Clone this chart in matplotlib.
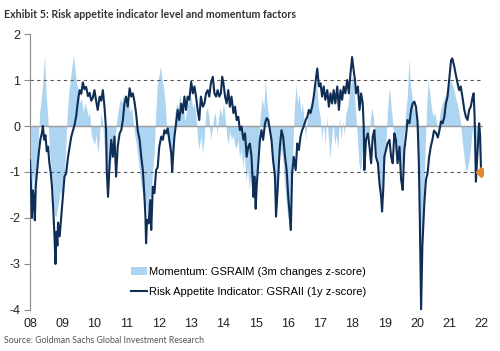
import numpy as np
import matplotlib
matplotlib.use('Agg')
import matplotlib.pyplot as plt
from matplotlib.patches import Patch
from matplotlib.lines import Line2D

plt.rcParams['font.family'] = ['Liberation Sans', 'DejaVu Sans']
plt.rcParams['axes.unicode_minus'] = False

# GSRAII (1y z-score)
gsraii_years = [
    2008.00, 2008.03, 2008.06, 2008.09, 2008.12, 2008.15, 2008.18, 2008.22, 2008.27, 2008.32,
    2008.37, 2008.40, 2008.44, 2008.48, 2008.52, 2008.56, 2008.60, 2008.64, 2008.68, 2008.72,
    2008.76, 2008.79, 2008.82, 2008.85, 2008.87, 2008.92, 2008.97, 2009.02, 2009.07, 2009.12,
    2009.18, 2009.28, 2009.38, 2009.43, 2009.49, 2009.54, 2009.59, 2009.64, 2009.69, 2009.74,
    2009.80, 2009.85, 2009.90, 2009.95, 2010.00, 2010.05, 2010.10, 2010.16, 2010.21, 2010.26,
    2010.31, 2010.36, 2010.38, 2010.42, 2010.47, 2010.52, 2010.57, 2010.62, 2010.67, 2010.72,
    2010.78, 2010.83, 2010.88, 2010.93, 2010.98, 2011.03, 2011.09, 2011.14, 2011.19, 2011.24,
    2011.29, 2011.34, 2011.40, 2011.45, 2011.50, 2011.55, 2011.58, 2011.60, 2011.63, 2011.68,
    2011.73, 2011.76, 2011.81, 2011.86, 2011.91, 2011.96, 2012.01, 2012.07, 2012.12, 2012.17,
    2012.22, 2012.27, 2012.32, 2012.38, 2012.41, 2012.45, 2012.48, 2012.53, 2012.58, 2012.63,
    2012.69, 2012.74, 2012.79, 2012.84, 2012.89, 2012.94, 2013.00, 2013.05, 2013.10, 2013.15,
    2013.20, 2013.25, 2013.30, 2013.36, 2013.41, 2013.46, 2013.51, 2013.56, 2013.61, 2013.67,
    2013.72, 2013.77, 2013.82, 2013.87, 2013.92, 2013.96, 2014.00, 2014.05, 2014.10, 2014.15,
    2014.20, 2014.25, 2014.31, 2014.36, 2014.41, 2014.46, 2014.51, 2014.56, 2014.62, 2014.67,
    2014.72, 2014.77, 2014.82, 2014.87, 2014.93, 2014.96, 2015.00, 2015.03, 2015.08, 2015.13,
    2015.18, 2015.23, 2015.29, 2015.34, 2015.39, 2015.44, 2015.49, 2015.54, 2015.60, 2015.63,
    2015.68, 2015.72, 2015.75, 2015.80, 2015.85, 2015.91, 2015.96, 2016.01, 2016.06, 2016.09,
    2016.13, 2016.18, 2016.24, 2016.29, 2016.34, 2016.39, 2016.44, 2016.49, 2016.55, 2016.60,
    2016.65, 2016.70, 2016.75, 2016.80, 2016.85, 2016.91, 2016.96, 2017.01, 2017.06, 2017.11,
    2017.16, 2017.22, 2017.27, 2017.32, 2017.37, 2017.42, 2017.47, 2017.53, 2017.58, 2017.63,
    2017.68, 2017.73, 2017.78, 2017.84, 2017.89, 2017.94, 2017.99, 2018.04, 2018.08, 2018.11,
    2018.17, 2018.22, 2018.27, 2018.32, 2018.35, 2018.37, 2018.42, 2018.48, 2018.53, 2018.58,
    2018.63, 2018.68, 2018.73, 2018.79, 2018.84, 2018.89, 2018.92, 2018.96, 2018.99, 2019.04,
    2019.09, 2019.15, 2019.20, 2019.25, 2019.30, 2019.35, 2019.40, 2019.46, 2019.51, 2019.56,
    2019.61, 2019.66, 2019.71, 2019.77, 2019.82, 2019.87, 2019.92, 2019.97, 2020.02, 2020.06,
    2020.09, 2020.11, 2020.13, 2020.17, 2020.23, 2020.28, 2020.33, 2020.38, 2020.43, 2020.48,
    2020.53, 2020.60, 2020.65, 2020.70, 2020.75, 2020.80, 2020.85, 2020.90, 2020.95, 2021.00,
    2021.06, 2021.10, 2021.16, 2021.20, 2021.26, 2021.31, 2021.36, 2021.41, 2021.47, 2021.52,
    2021.57, 2021.62, 2021.67, 2021.73, 2021.76, 2021.79, 2021.83, 2021.86, 2021.93, 2021.96,
    2021.99,
]
gsraii = [
    -0.75, -1.30, -2.00, -1.40, -1.55, -2.05, -1.30, -1.00, -0.60, -0.30,
    -0.15, 0.00, -0.30, -0.20, -0.55, -0.45, -0.80, -1.00, -1.30, -1.80,
    -2.40, -3.00, -2.30, -2.60, -2.10, -2.40, -1.97, -1.54, -1.10, -1.03,
    -0.67, -0.23, 0.02, 0.20, 0.57, 0.78, 0.70, 0.95, 0.80, 0.85,
    0.65, 0.72, 0.55, 0.62, 0.78, 0.55, 0.35, 0.64, 0.55, 0.78,
    0.42, -0.09, -0.96, -1.54, -0.81, -0.30, -0.67, -0.23, -1.10, -0.45,
    -0.16, -0.09, 0.13, 0.49, 0.64, 0.42, 0.82, 0.64, 0.71, 0.53,
    0.28, -0.09, -0.30, -0.67, -0.96, -1.54, -1.97, -2.55, -2.04, -2.12,
    -1.61, -2.26, -1.32, -1.46, -0.96, -0.90, -0.45, -0.23, -0.30, -0.09,
    -0.16, -0.05, -0.30, -0.59, -0.99, -0.52, -0.23, 0.06, 0.35, 0.13,
    0.49, 0.28, 0.64, 0.35, 0.64, 0.57, 0.96, 0.71, 0.86, 0.64,
    0.35, 0.13, 0.64, 0.42, 0.49, 0.71, 0.78, 0.64, 0.93, 1.07,
    0.71, 0.64, 0.78, 0.64, 0.71, 1.07, 0.93, 0.64, 0.49, 0.78,
    0.42, 0.64, 0.28, 0.42, 0.13, 0.20, -0.09, -0.01, -0.30, -0.16,
    -0.67, -0.45, -0.38, -0.67, -1.54, -1.10, -1.80, -1.32, -0.81, -0.30,
    -0.09, -0.30, 0.06, 0.17, 0.13, -0.09, -0.30, -0.74, -1.10, -1.97,
    -1.39, -0.81, -0.45, -0.09, -0.23, -0.67, -0.96, -1.54, -1.97, -2.26,
    -1.03, -0.67, -0.96, -0.38, -0.52, -0.23, -0.09, -0.01, 0.13, 0.20,
    0.35, 0.28, 0.42, 0.64, 0.93, 1.25, 0.86, 0.93, 0.64, 0.86,
    0.57, 0.78, 0.42, 0.71, 0.49, 0.78, 0.49, 0.86, 0.35, 0.78,
    0.57, 0.86, 0.71, 1.00, 0.71, 1.14, 1.50, 1.20, 1.00, 0.71,
    0.86, 0.35, 0.71, 0.49, 0.00, -0.96, -0.30, -0.16, -0.45, -0.81,
    -0.23, -0.09, -0.67, -0.81, -1.25, -1.54, -1.86, -1.32, -0.67, -0.52,
    -0.38, -0.30, -0.67, -0.81, -0.16, -0.30, -0.81, -0.45, -1.17, -1.39,
    -0.52, -0.23, 0.13, 0.06, 0.35, 0.49, 0.53, 0.42, 0.10, -0.80,
    -2.00, -3.00, -4.00, -2.60, -1.68, -1.17, -1.03, -0.67, -0.45, -0.30,
    -0.10, -0.16, -0.25, -0.09, 0.10, 0.06, 0.20, 0.49, 0.64, 1.00,
    1.43, 1.47, 1.29, 1.14, 0.93, 0.78, 0.86, 0.64, 0.35, 0.20,
    0.13, 0.35, 0.42, 0.64, 0.71, 0.20, -1.21, -0.80, 0.06, -0.20,
    -1.00,
]

# GSRAIM momentum (3m changes z-score), every 0.05 year from 2008
momentum_start = 2008.0
momentum = [
    # 2008
    -0.6, -1.5, -1.0, -1.7, -0.8, -0.4, 0.3, 0.6, 1.0, 1.55,
    0.7, 0.2, -0.5, -0.9, -1.3, -1.9, -2.0, -1.8, -1.6, -1.4,
    # 2009
    -1.6, -1.2, -0.6, 0.2, 0.7, 1.0, 1.3, 1.55, 1.2, 0.9,
    0.8, 0.5, 0.6, 0.3, 0.5, 0.4, 0.2, 0.3, -0.2, -0.3,
    # 2010
    -0.4, -0.2, -0.6, -0.3, 0.3, 0.1, -0.4, -0.9, -1.5, -1.1,
    -0.8, -0.5, -0.6, -0.2, 0.2, 0.4, 0.6, 0.5, 0.7, 0.5,
    # 2011
    0.4, 0.6, 0.3, 0.4, 0.1, -0.2, -0.4, -0.7, -1.0, -1.3,
    -1.5, -1.9, -1.7, -2.0, -1.5, -1.6, -1.0, -0.6, 0.3, 0.9,
    # 2012
    1.1, 1.3, 1.0, 0.8, 0.4, -0.2, -0.4, -0.6, -0.7, -0.3,
    0.3, 0.5, 0.4, 0.7, 0.3, 0.5, 0.1, 0.3, 0.5, 0.7,
    # 2013
    0.6, 0.4, 0.5, 0.2, -0.3, -0.5, -0.2, -0.6, -0.3, 0.3,
    0.4, 0.2, -0.3, -0.1, 0.2, 0.3, -0.2, 0.2, 0.4, 0.2,
    # 2014
    0.5, 0.2, -0.2, -0.4, -0.1, -0.3, -0.2, -0.4, -0.5, -0.3,
    -0.7, -0.5, -0.9, -0.6, -1.2, -0.9, -1.4, -1.0, -1.6, -1.2,
    # 2015
    -1.5, -0.8, -0.2, 0.3, 0.6, 0.4, 1.0, 0.5, 0.2, -0.3,
    -0.7, -1.2, -1.8, -1.5, -1.0, -0.6, -0.5, -0.8, -1.3, -1.7,
    # 2016
    -2.0, -2.1, -1.6, -0.5, 0.4, 0.9, 0.5, 0.7, 0.3, 0.5,
    0.1, -0.3, 0.2, 0.3, 0.5, 0.4, 0.7, 1.0, 0.8, 0.4,
    # 2017
    0.2, -0.3, 0.1, -0.4, 0.2, -0.2, -0.7, -0.3, 0.1, -0.4,
    -0.2, -0.5, 0.2, -0.3, 0.1, -0.2, 0.3, 0.4, 0.7, 0.9,
    # 2018
    1.1, 0.8, 0.3, -0.2, -0.8, -1.0, -0.6, -0.3, -0.5, -0.2,
    -0.4, 0.1, 0.4, 0.2, -0.3, -0.6, -1.0, -1.3, -1.5, -1.2,
    # 2019
    -0.8, -0.2, 0.5, 0.85, 0.4, 0.1, -0.4, -0.8, -0.5, -0.9,
    -1.1, -0.7, -0.2, 0.3, 0.6, 1.45, 0.9, 0.6, 0.4, 0.3,
    # 2020
    0.1, -1.2, -2.5, -3.0, -2.0, -0.6, 0.4, 1.0, 0.7, 0.4,
    0.2, 0.3, 0.1, -0.1, 0.2, 0.4, 0.5, 0.6, 0.7, 0.8,
    # 2021
    0.9, 1.0, 0.9, 0.8, 0.6, 0.5, 0.3, 0.1, -0.3, -0.6,
    -0.9, -1.0, -0.8, -0.6, -0.2, 0.1, -0.5, -1.0, -0.3, -0.8,
]
momentum_years = momentum_start + 0.05 * np.arange(len(momentum))

latest_year = 2021.99
latest_value = -1.0

year_ticks = list(range(2008, 2023))
year_labels = [f'{y % 100:02d}' for y in year_ticks]

navy = '#0f2e56'
light_blue = '#add4f0'

fig = plt.figure(figsize=(5.0, 3.51), dpi=100)
ax = fig.add_axes([0.06, 0.117, 0.906, 0.786])

ax.fill_between(momentum_years, 0, momentum, color=light_blue, linewidth=0)
ax.axhline(0, color='#9a9a9a', lw=1.0, zorder=2)
for lvl in (1, -1):
    ax.axhline(lvl, color='#555555', lw=0.8, ls=(0, (3, 3)), zorder=2)
ax.plot(gsraii_years, gsraii, color=navy, lw=1.5, zorder=3)
ax.plot([latest_year], [latest_value], marker='D', color='#e3892e', ms=5, zorder=4)

ax.set_xlim(2008, 2022.05)
ax.set_ylim(-4, 2)
ax.set_yticks([2, 1, 0, -1, -2, -3, -4])
ax.set_xticks(year_ticks)
ax.set_xticklabels(year_labels)
for s in ['top', 'right', 'bottom']:
    ax.spines[s].set_visible(False)
ax.spines['left'].set_color('#8c8c8c')
ax.spines['left'].set_linewidth(0.8)
ax.tick_params(axis='y', length=4, width=0.8, color='#8c8c8c', labelsize=9, pad=3, labelcolor='#222222')
ax.tick_params(axis='x', length=0, labelsize=9, pad=6, labelcolor='#222222')

handles = [Patch(facecolor=light_blue, edgecolor='none'),
           Line2D([0], [0], color=navy, lw=1.5)]
labels = ['Momentum: GSRAIM (3m changes z-score)',
          'Risk Appetite Indicator: GSRAII (1y z-score)']
ax.legend(handles, labels, loc='lower left', bbox_to_anchor=(0.214, 0.03),
          frameon=False, fontsize=8, handlelength=1.45, handletextpad=0.15,
          labelspacing=0.9, borderaxespad=0)

fig.text(0.008, 0.975, 'Exhibit 5: Risk appetite indicator level and momentum factors',
         fontsize=7.7, fontweight='bold', color='#333333', va='top', ha='left',
         family=['Lato', 'DejaVu Sans'])
fig.text(0.008, 0.018, 'Source: Goldman Sachs Global Investment Research',
         fontsize=6.3, color='#555555', va='bottom', ha='left',
         family=['Lato', 'DejaVu Sans'])

fig.savefig('out.png', dpi=100)
